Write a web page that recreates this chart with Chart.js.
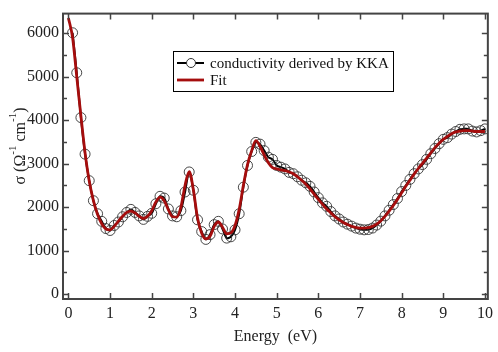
<!DOCTYPE html>
<html>
<head>
<meta charset="utf-8">
<script src="https://cdn.jsdelivr.net/npm/chart.js@4.4.1/dist/chart.umd.min.js"></script>
<style>
  html, body { margin: 0; padding: 0; background: #fff; }
  #wrap { width: 498px; height: 352px; }
</style>
</head>
<body>
<div id="wrap"><canvas id="chart" width="498" height="352"></canvas></div>
<script>
// KKA-derived conductivity, one point every 0.1 eV
const energy = [
  0.1, 0.2, 0.3, 0.4, 0.5, 0.6, 0.7, 0.8, 0.9, 1.0,
  1.1, 1.2, 1.3, 1.4, 1.5, 1.6, 1.7, 1.8, 1.9, 2.0,
  2.1, 2.2, 2.3, 2.4, 2.5, 2.6, 2.7, 2.8, 2.9, 3.0,
  3.1, 3.2, 3.3, 3.4, 3.5, 3.6, 3.7, 3.8, 3.9, 4.0,
  4.1, 4.2, 4.3, 4.4, 4.5, 4.6, 4.7, 4.8, 4.9, 5.0,
  5.1, 5.2, 5.3, 5.4, 5.5, 5.6, 5.7, 5.8, 5.9, 6.0,
  6.1, 6.2, 6.3, 6.4, 6.5, 6.6, 6.7, 6.8, 6.9, 7.0,
  7.1, 7.2, 7.3, 7.4, 7.5, 7.6, 7.7, 7.8, 7.9, 8.0,
  8.1, 8.2, 8.3, 8.4, 8.5, 8.6, 8.7, 8.8, 8.9, 9.0,
  9.1, 9.2, 9.3, 9.4, 9.5, 9.6, 9.7, 9.8, 9.9, 10.0
];
const kka = [
  6010, 5090, 4060, 3220, 2610, 2150, 1850, 1675, 1510, 1465,
  1580, 1660, 1780, 1880, 1950, 1880, 1800, 1720, 1790, 1860,
  2080, 2250, 2210, 1960, 1800, 1780, 1920, 2350, 2810, 2390,
  1710, 1440, 1260, 1370, 1600, 1675, 1500, 1290, 1320, 1480,
  1850, 2460, 2960, 3280, 3490, 3450, 3300, 3150, 3100, 2960,
  2920, 2880, 2800, 2770, 2700, 2620, 2560, 2480, 2350, 2220,
  2100, 2020, 1900, 1800, 1730, 1660, 1610, 1565, 1520, 1495,
  1480, 1487, 1520, 1590, 1680, 1800, 1930, 2060, 2200, 2360,
  2500, 2640, 2770, 2880, 2980, 3100, 3230, 3350, 3460, 3560,
  3600, 3680, 3740, 3790, 3800, 3800, 3750, 3730, 3760, 3800
];

// fitted curve
const fitEnergy = [
  0.0, 0.1, 0.2, 0.3, 0.4, 0.5, 0.6, 0.7, 0.8, 0.9, 1.0,
  1.1, 1.2, 1.3, 1.4, 1.5, 1.6, 1.7, 1.8, 1.9, 2.0,
  2.1, 2.2, 2.3, 2.4, 2.5, 2.6, 2.7, 2.8, 2.9, 3.0,
  3.1, 3.2, 3.3, 3.4, 3.5, 3.6, 3.7, 3.8, 3.9, 4.0,
  4.1, 4.2, 4.3, 4.4, 4.5, 4.6, 4.7, 4.8, 4.9, 5.0,
  5.1, 5.2, 5.3, 5.4, 5.5, 5.6, 5.7, 5.8, 5.9, 6.0,
  6.1, 6.2, 6.3, 6.4, 6.5, 6.6, 6.7, 6.8, 6.9, 7.0,
  7.1, 7.2, 7.3, 7.4, 7.5, 7.6, 7.7, 7.8, 7.9, 8.0,
  8.1, 8.2, 8.3, 8.4, 8.5, 8.6, 8.7, 8.8, 8.9, 9.0,
  9.1, 9.2, 9.3, 9.4, 9.5, 9.6, 9.7, 9.8, 9.9, 10.0
];
const fit = [
  6350, 5900, 5000, 4100, 3250, 2600, 2150, 1830, 1620, 1500, 1480,
  1560, 1680, 1790, 1880, 1910, 1870, 1790, 1740, 1790, 1920,
  2120, 2230, 2150, 1940, 1780, 1770, 2000, 2500, 2820, 2400,
  1750, 1400, 1270, 1330, 1560, 1660, 1540, 1390, 1410, 1580,
  1950, 2500, 2980, 3300, 3530, 3400, 3200, 3020, 2910, 2880,
  2860, 2840, 2810, 2770, 2700, 2620, 2530, 2420, 2300, 2180,
  2070, 1960, 1870, 1780, 1710, 1650, 1600, 1560, 1535, 1520,
  1520, 1530, 1560, 1610, 1690, 1790, 1910, 2040, 2180, 2330,
  2480, 2620, 2760, 2890, 3010, 3130, 3250, 3370, 3470, 3560,
  3630, 3690, 3730, 3750, 3760, 3760, 3750, 3740, 3740, 3740
];

const xTicks = [0, 1, 2, 3, 4, 5, 6, 7, 8, 9, 10];
const yTicks = [0, 1000, 2000, 3000, 4000, 5000, 6000];
const yMinorTicks = [500, 1500, 2500, 3500, 4500, 5500, 6500];

// y title pieces: [text, superscript?]
const yTitleParts = [['σ (Ω', false], ['-1', true], [' cm', false], ['-1', true], [')', false]];

const FONT = "'Liberation Serif', 'DejaVu Serif', serif";
const FRAME = '#444';

// frame, inward ticks, y title and the boxed legend
const framePlugin = {
    id: 'frame',
    afterDraw(chart) {
        const { ctx, chartArea: a, scales: { x, y } } = chart;
        ctx.save();
        ctx.strokeStyle = FRAME;
        ctx.lineWidth = 1.5;
        ctx.beginPath();
        xTicks.forEach(v => {
            const px = Math.round(x.getPixelForValue(v)) + 0.5;
            ctx.moveTo(px, a.bottom); ctx.lineTo(px, a.bottom - 6);
            ctx.moveTo(px, a.top); ctx.lineTo(px, a.top + 6);
        });
        yTicks.forEach(v => {
            const py = Math.round(y.getPixelForValue(v)) + 0.5;
            ctx.moveTo(a.left, py); ctx.lineTo(a.left + 6, py);
            ctx.moveTo(a.right, py); ctx.lineTo(a.right - 6, py);
        });
        yMinorTicks.forEach(v => {
            const py = Math.round(y.getPixelForValue(v)) + 0.5;
            if (py < a.top) return;
            ctx.moveTo(a.left, py); ctx.lineTo(a.left + 4, py);
            ctx.moveTo(a.right, py); ctx.lineTo(a.right - 4, py);
        });
        ctx.stroke();

        ctx.lineWidth = 2;
        ctx.strokeRect(a.left, a.top, a.right - a.left, a.bottom - a.top);

        // y axis title with raised -1 exponents
        const mainFont = '16px ' + FONT, supFont = '11px ' + FONT;
        let total = 0;
        yTitleParts.forEach(([t, sup]) => {
            ctx.font = sup ? supFont : mainFont;
            total += ctx.measureText(t).width;
        });
        ctx.save();
        ctx.translate(21, 146);
        ctx.rotate(-Math.PI / 2);
        ctx.fillStyle = '#222';
        ctx.textBaseline = 'middle';
        let cx = -total / 2;
        yTitleParts.forEach(([t, sup]) => {
            ctx.font = sup ? supFont : mainFont;
            ctx.fillText(t, cx, sup ? -8 : 0);
            cx += ctx.measureText(t).width;
        });
        ctx.restore();

        // legend
        const lx = 173, ly = 51, lw = 220, lh = 40;
        ctx.fillStyle = '#fff';
        ctx.fillRect(lx, ly, lw, lh);
        ctx.strokeStyle = '#000';
        ctx.lineWidth = 1;
        ctx.strokeRect(lx + 0.5, ly + 0.5, lw, lh);

        const ds = chart.data.datasets;
        const rows = [ly + 12, ly + 29];
        ds.forEach((d, i) => {
            const ry = rows[i];
            ctx.strokeStyle = d.borderColor;
            ctx.lineWidth = d.borderWidth;
            ctx.beginPath();
            ctx.moveTo(lx + 4, ry); ctx.lineTo(lx + 31, ry);
            ctx.stroke();
            if (d.pointRadius > 0) {
                ctx.fillStyle = '#fff';
                ctx.strokeStyle = d.pointBorderColor;
                ctx.lineWidth = 1;
                ctx.beginPath();
                ctx.arc(lx + 18, ry, 4.5, 0, Math.PI * 2);
                ctx.fill();
                ctx.stroke();
            }
            ctx.fillStyle = '#111';
            ctx.font = '15px ' + FONT;
            ctx.textBaseline = 'middle';
            ctx.fillText(d.label, lx + 37, ry + 1);
        });
        ctx.restore();
    }
};

new Chart(document.getElementById('chart'), {
    type: 'line',
    data: {
        datasets: [
            {
                label: 'conductivity derived by KKA',
                data: energy.map((e, i) => ({ x: e, y: kka[i] })),
                borderColor: '#000',
                borderWidth: 2,
                pointRadius: 5,
                pointBackgroundColor: 'rgba(0,0,0,0)',
                pointBorderColor: '#333',
                pointBorderWidth: 0.9,
                tension: 0.3,
                order: 2
            },
            {
                label: 'Fit',
                data: fitEnergy.map((e, i) => ({ x: e, y: fit[i] })),
                borderColor: '#a50d0d',
                borderWidth: 2.8,
                pointRadius: 0,
                cubicInterpolationMode: 'monotone',
                order: 1
            }
        ]
    },
    options: {
        responsive: false,
        animation: false,
        events: [],
        layout: { padding: { top: 9, right: 10, left: 0, bottom: 0 } },
        plugins: {
            legend: { display: false },
            tooltip: { enabled: false }
        },
        scales: {
            x: {
                type: 'linear',
                min: -0.13,
                max: 10.07,
                afterBuildTicks: s => { s.ticks = xTicks.map(v => ({ value: v })); },
                afterFit: s => { s.height = 53; },
                grid: { display: false, drawTicks: false },
                border: { display: false },
                ticks: {
                    color: '#222',
                    font: { family: FONT, size: 16 },
                    padding: 5,
                    maxRotation: 0,
                    callback: v => String(v)
                },
                title: {
                    display: true,
                    text: 'Energy  (eV)',
                    color: '#222',
                    font: { family: FONT, size: 16 },
                    padding: { top: 0, bottom: 6 }
                }
            },
            y: {
                min: -110,
                max: 6450,
                afterBuildTicks: s => { s.ticks = yTicks.map(v => ({ value: v })); },
                afterFit: s => { s.width = 63; },
                grid: { display: false, drawTicks: false },
                border: { display: false },
                ticks: {
                    color: '#222',
                    font: { family: FONT, size: 16 },
                    padding: 4,
                    callback: v => String(v)
                }
            }
        }
    },
    plugins: [framePlugin]
});
</script>
</body>
</html>
